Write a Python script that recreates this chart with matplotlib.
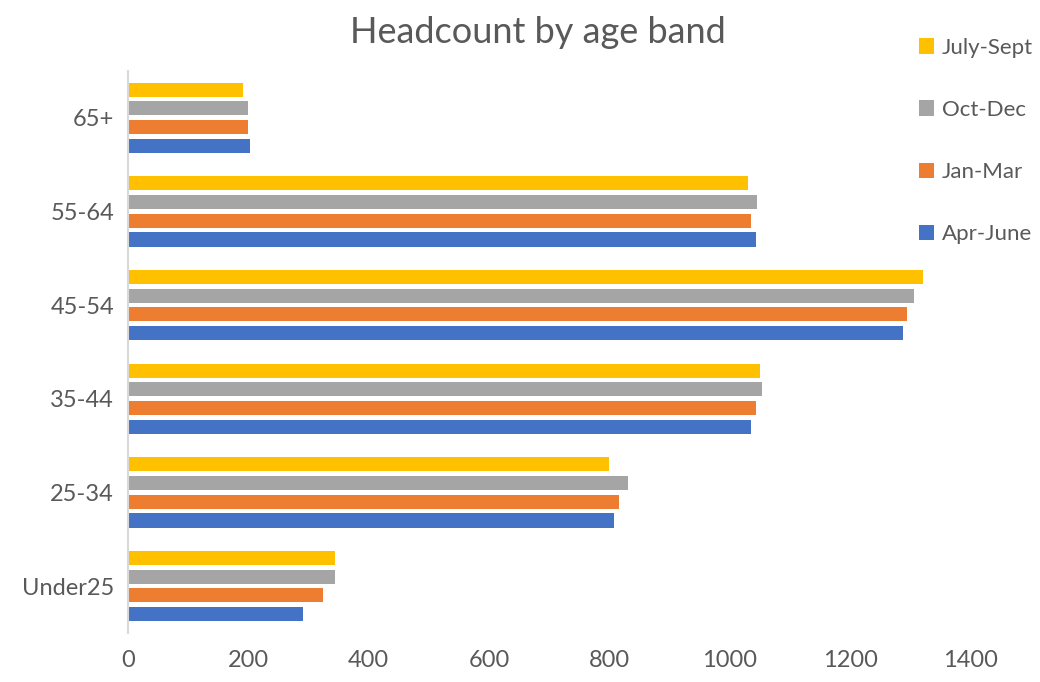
import numpy as np
import matplotlib.pyplot as plt

plt.rcParams['font.family'] = ['Lato', 'DejaVu Sans']

# data
age_bands = ["Under25", "25-34", "35-44", "45-54", "55-64", "65+"]
apr_june = [291, 808, 1035, 1288, 1043, 203]
jan_mar = [325, 816, 1043, 1295, 1035, 199]
oct_dec = [344, 831, 1054, 1306, 1046, 199]
july_sept = [344, 800, 1050, 1321, 1031, 192]

series = [
    ("Apr-June", apr_june, "#4472C4"),
    ("Jan-Mar", jan_mar, "#ED7D31"),
    ("Oct-Dec", oct_dec, "#A5A5A5"),
    ("July-Sept", july_sept, "#FFC000"),
]

text_col = "#595959"

fig = plt.figure(figsize=(10.4, 6.82), dpi=100)
ax = fig.add_axes([0.123, 0.072, 0.81, 0.824])

y = np.arange(len(age_bands))
offsets = [-0.3, -0.1, 0.1, 0.3]
handles = []
for (name, vals, col), off in zip(series, offsets):
    h = ax.barh(y + off, vals, height=0.15, color=col, label=name)
    handles.append(h)

ax.set_ylim(-0.5, len(age_bands) - 0.5)
ax.set_xlim(0, 1400)
ax.set_xticks(range(0, 1401, 200))
ax.set_yticks(y)
ax.set_yticklabels(age_bands)
ax.tick_params(axis='both', length=0, labelsize=17, colors=text_col)
ax.tick_params(axis='x', pad=12)
ax.tick_params(axis='y', pad=10)

for s in ['top', 'right', 'bottom']:
    ax.spines[s].set_visible(False)
ax.spines['left'].set_color('#D9D9D9')
ax.spines['left'].set_linewidth(1.5)

fig.text(0.517, 0.953, "Headcount by age band", ha='center', va='center',
         fontsize=26, color=text_col)

fig.legend(handles[::-1], [s[0] for s in series][::-1], loc='upper left',
           bbox_to_anchor=(0.864, 0.974), frameon=False, fontsize=16,
           labelcolor=text_col, handlelength=0.7, handleheight=0.7,
           handletextpad=0.35, labelspacing=1.9)

fig.savefig("out.png", dpi=100)
